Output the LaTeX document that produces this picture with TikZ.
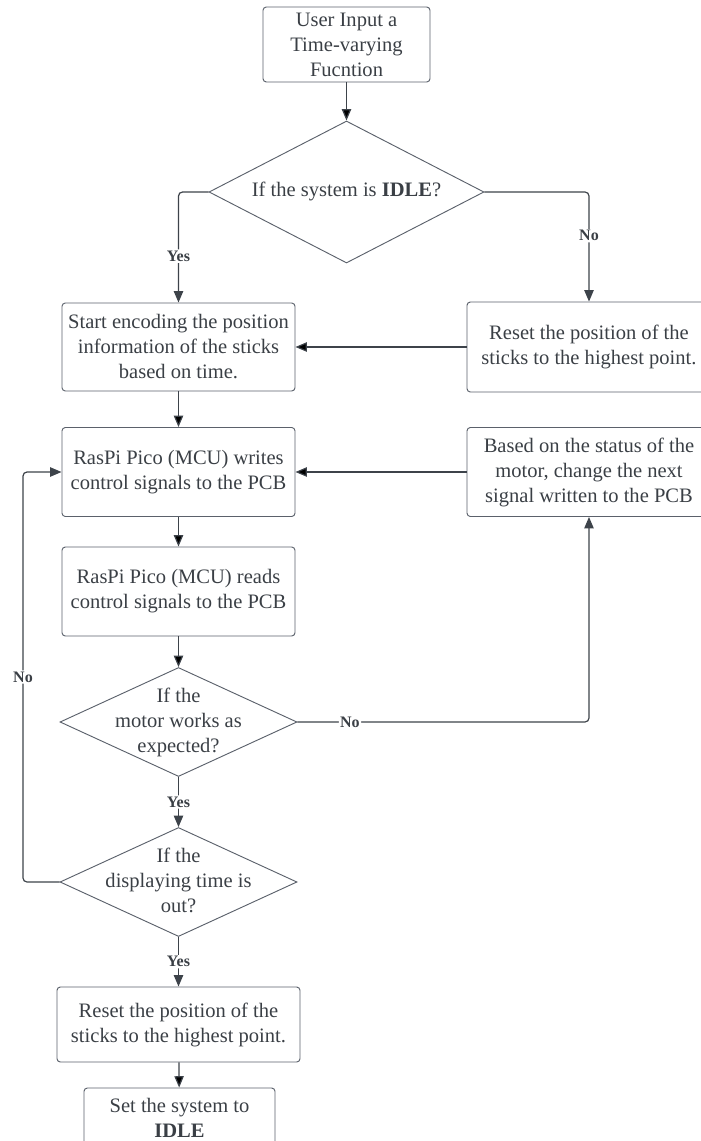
\documentclass[tikz,border=0pt]{standalone}
\usepackage{fontspec}
\setmainfont{Liberation Serif}
\usetikzlibrary{arrows.meta,shapes.geometric}

\definecolor{linec}{HTML}{3D434A}
\definecolor{boxc}{HTML}{5B616B}
\definecolor{textc}{HTML}{3A3F45}

% zero-width text block, so the diamond keeps its own size
\newcommand{\dtext}[1]{\makebox[0pt]{\begin{tabular}{@{}c@{}}#1\end{tabular}}}

\begin{document}
\begin{tikzpicture}[x=0.75pt,y=-0.75pt,>={Triangle[length=8.5pt,width=7pt]},
    every node/.style={text=textc,font=\fontsize{15.4pt}{18.75pt}\selectfont},
    dims/.style 2 args={minimum width=#1*0.75pt,minimum height=#2*0.75pt},
    process/.style={draw=boxc,line width=0.7pt,rounded corners=2.5pt,align=center,inner sep=2pt},
    decision/.style={draw=boxc,line width=0.7pt,diamond,inner sep=0pt},
    arr/.style={->,draw=linec,line width=0.9pt,rounded corners=3pt},
    lbl/.style={fill=white,inner sep=1pt,font=\fontsize{12pt}{14pt}\selectfont\bfseries}]
    \useasboundingbox (0,0) rectangle (700,1141);

    % left column
    \node[process, dims={167}{75}]   (user)    at (346.5,44.5)  {User Input a\\Time-varying\\Fucntion};
    \node[decision, dims={275}{142}] (idle)    at (346.5,192)   {\dtext{If the system is \textbf{IDLE}?}};
    \node[process, dims={233}{88}]   (encode)  at (178.5,347)   {Start encoding the position\\information of the sticks\\based on time.};
    \node[process, dims={233}{89}]   (write)   at (178.5,472)   {RasPi Pico (MCU) writes\\control signals to the PCB};
    \node[process, dims={233}{89}]   (read)    at (178.5,591.5) {RasPi Pico (MCU) reads\\control signals to the PCB};
    \node[decision, dims={237}{109}] (motor)   at (178.5,722)   {\dtext{If the\\motor works as\\expected?}};
    \node[decision, dims={237}{109}] (timeout) at (178.5,882)   {\dtext{If the\\displaying time is\\out?}};
    \node[process, dims={243}{75}]   (reset2)  at (178.5,1024.5) {Reset the position of the\\sticks to the highest point.};
    \node[process, dims={191}{60}]   (setidle) at (179.5,1118)  {Set the system to\\\textbf{IDLE}};

    % right column
    \node[process, dims={244}{90}]   (reset1)  at (589,347)     {Reset the position of the\\sticks to the highest point.};
    \node[process, dims={244}{89}]   (status)  at (589,472)     {Based on the status of the\\motor, change the next\\signal written to the PCB};

    \coordinate (loop) at (23,472);

    \path[arr] (user) edge (idle)
               (reset1) edge (encode)
               (encode) edge (write)
               (status) edge (write)
               (write) edge (read)
               (read) edge (motor)
               (reset2) edge (setidle);
    \draw[arr] (idle.west) -| node[lbl,pos=0.79] {Yes} (encode.north);
    \draw[arr] (idle.east) -| node[lbl,pos=0.70] {No} (reset1.north);
    \draw[arr] (motor.east) -| node[lbl,pos=0.09] {No} (status.south);
    \draw[arr] (motor.south) -- node[lbl] {Yes} (timeout.north);
    \draw[arr] (timeout.west) -| (loop) node[lbl,pos=0.75] {No} -- (write.west);
    \draw[arr] (timeout.south) -- node[lbl] {Yes} (reset2.north);
\end{tikzpicture}
\end{document}
